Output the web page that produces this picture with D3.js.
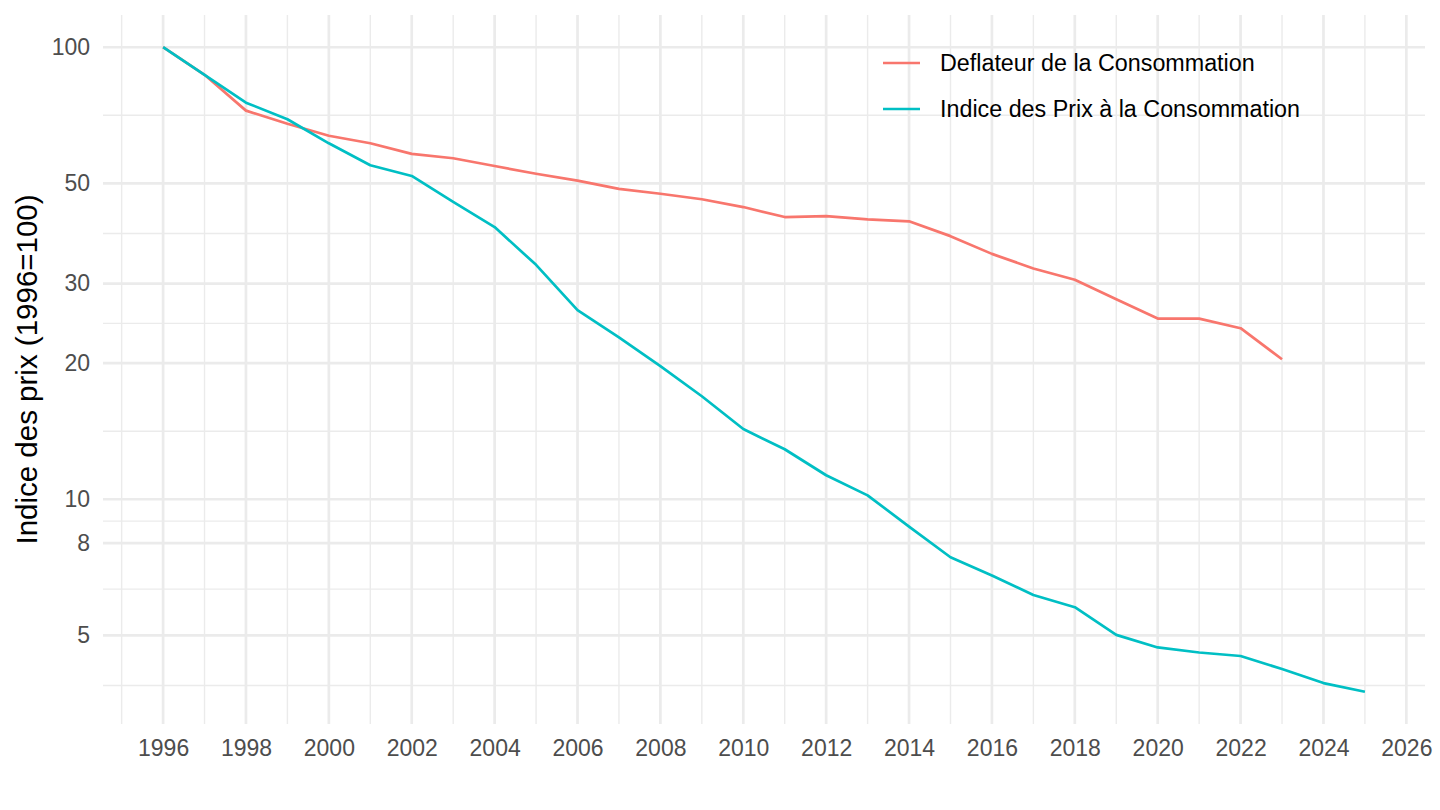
<!DOCTYPE html>
<html>
<head>
<meta charset="utf-8">
<script src="https://cdn.jsdelivr.net/npm/d3@7"></script>
<style>
  body { margin: 0; background: #fff; }
  text { font-family: "Liberation Sans", Arial, sans-serif; }
</style>
</head>
<body>
<div id="vis1"></div>
<script>
// values (index, 1996 = 100)
const years = d3.range(1996, 2026);
const deflateur = [100, 86.9, 72.4, 67.7, 63.7, 61.3, 58.1, 56.8, 54.6, 52.5,
  50.7, 48.6, 47.4, 46.1, 44.3, 42.1, 42.3, 41.6, 41.2, 38.2,
  34.9, 32.4, 30.6, 27.7, 25.1, 25.1, 23.9, 20.4];
const ipc = [100, 86.9, 75.4, 69.3, 61.3, 54.8, 51.9, 45.5, 40.0, 33.0,
  26.2, 22.8, 19.7, 16.9, 14.3, 12.9, 11.3, 10.2, 8.70, 7.44,
  6.78, 6.14, 5.77, 5.01, 4.70, 4.58, 4.50, 4.21, 3.92, 3.75];
const seriesNames = ["Deflateur de la Consommation", "Indice des Prix à la Consommation"];
const yBreaks = [3, 5, 8, 10, 20, 30, 50, 100];
const xBreaks = d3.range(1994, 2028, 2);

const W = 1440, H = 810;
let margin = { top: 15, left: 103, right: 15, bottom: 86 };

const color = d3.scaleOrdinal()
  .domain(seriesNames)
  .range(["#F8766D", "#00BFC4"]);

const series = [
  { key: seriesNames[0], values: deflateur.map((v, i) => ({ year: years[i], v })) },
  { key: seriesNames[1], values: ipc.map((v, i) => ({ year: years[i], v })) }
];

// ggplot-like 5% expansion (in log space for y)
const allVals = series.flatMap(s => s.values);
const xExt = d3.extent(allVals, d => d.year);
const xPad = (xExt[1] - xExt[0]) * 0.05;
const lExt = d3.extent(allVals, d => Math.log10(d.v));
const lPad = (lExt[1] - lExt[0]) * 0.05;

let x = d3.scaleLinear()
  .domain([xExt[0] - xPad, xExt[1] + xPad])
  .range([margin.left, W - margin.right]);

let y = d3.scaleLog()
  .domain([Math.pow(10, lExt[0] - lPad), Math.pow(10, lExt[1] + lPad)])
  .range([H - margin.bottom, margin.top]);

let svg1 = d3.select('#vis1')
  .append('svg')
  .attr('width', W)
  .attr('height', H)
  .attr('viewBox', [0, 0, W, H].join(' '));

const inY = v => v >= y.domain()[0] && v <= y.domain()[1];
const inX = v => v >= x.domain()[0] && v <= x.domain()[1];

// minor grid: midpoints between major breaks (geometric for log)
const yMinor = d3.pairs(yBreaks).map(([a, b]) => Math.sqrt(a * b)).filter(inY);
const xMinor = d3.pairs(xBreaks).map(([a, b]) => (a + b) / 2).filter(inX);

const grid = svg1.append("g");
grid.selectAll(".ymin").data(yMinor).join("line")
  .attr("x1", margin.left).attr("x2", W - margin.right)
  .attr("y1", d => y(d)).attr("y2", d => y(d))
  .attr("stroke", "#EBEBEB").attr("stroke-width", 1.4);
grid.selectAll(".xmin").data(xMinor).join("line")
  .attr("y1", margin.top).attr("y2", H - margin.bottom)
  .attr("x1", d => x(d)).attr("x2", d => x(d))
  .attr("stroke", "#EBEBEB").attr("stroke-width", 1.4);
grid.selectAll(".ymaj").data(yBreaks.filter(inY)).join("line")
  .attr("x1", margin.left).attr("x2", W - margin.right)
  .attr("y1", d => y(d)).attr("y2", d => y(d))
  .attr("stroke", "#EBEBEB").attr("stroke-width", 2.7);
grid.selectAll(".xmaj").data(xBreaks.filter(inX)).join("line")
  .attr("y1", margin.top).attr("y2", H - margin.bottom)
  .attr("x1", d => x(d)).attr("x2", d => x(d))
  .attr("stroke", "#EBEBEB").attr("stroke-width", 2.7);

// axes (no domain line, no ticks, like theme_minimal)
svg1.append("g")
  .attr("transform", `translate(0,${H - margin.bottom})`)
  .call(d3.axisBottom(x).tickValues(xBreaks.filter(inX)).tickFormat(d3.format("d")).tickSize(0).tickPadding(16))
  .call(g => g.select(".domain").remove())
  .selectAll("text")
  .attr("font-size", 23)
  .attr("fill", "#4D4D4D");

svg1.append("g")
  .attr("transform", `translate(${margin.left},0)`)
  .call(d3.axisLeft(y).tickValues(yBreaks.filter(inY)).tickFormat(d3.format("d")).tickSize(0).tickPadding(13))
  .call(g => g.select(".domain").remove())
  .selectAll("text")
  .attr("font-size", 23)
  .attr("fill", "#4D4D4D");

// Y axis label
svg1.append("text")
  .attr("transform", `translate(37,${(margin.top + H - margin.bottom) / 2}) rotate(-90)`)
  .attr("text-anchor", "middle")
  .attr("font-size", 29.5)
  .attr("fill", "#000")
  .text("Indice des prix (1996=100)");

// lines
const line = d3.line()
  .x(d => x(d.year))
  .y(d => y(d.v));

svg1.append("g")
  .selectAll("path")
  .data(series)
  .join("path")
    .attr("fill", "none")
    .attr("stroke", d => color(d.key))
    .attr("stroke-width", 2.7)
    .attr("stroke-linejoin", "round")
    .attr("d", d => line(d.values));

// legend (inside, top right)
const legend = svg1.append("g")
  .attr("transform", "translate(883,63)")
  .selectAll("g")
  .data(seriesNames)
  .join("g")
    .attr("transform", (d, i) => `translate(0,${i * 46})`);

legend.append("line")
  .attr("x1", 0).attr("x2", 37)
  .attr("stroke", d => color(d))
  .attr("stroke-width", 2.7);

legend.append("text")
  .attr("x", 57)
  .attr("dy", "0.35em")
  .attr("font-size", 23.3)
  .attr("fill", "#000")
  .text(d => d);
</script>
</body>
</html>
